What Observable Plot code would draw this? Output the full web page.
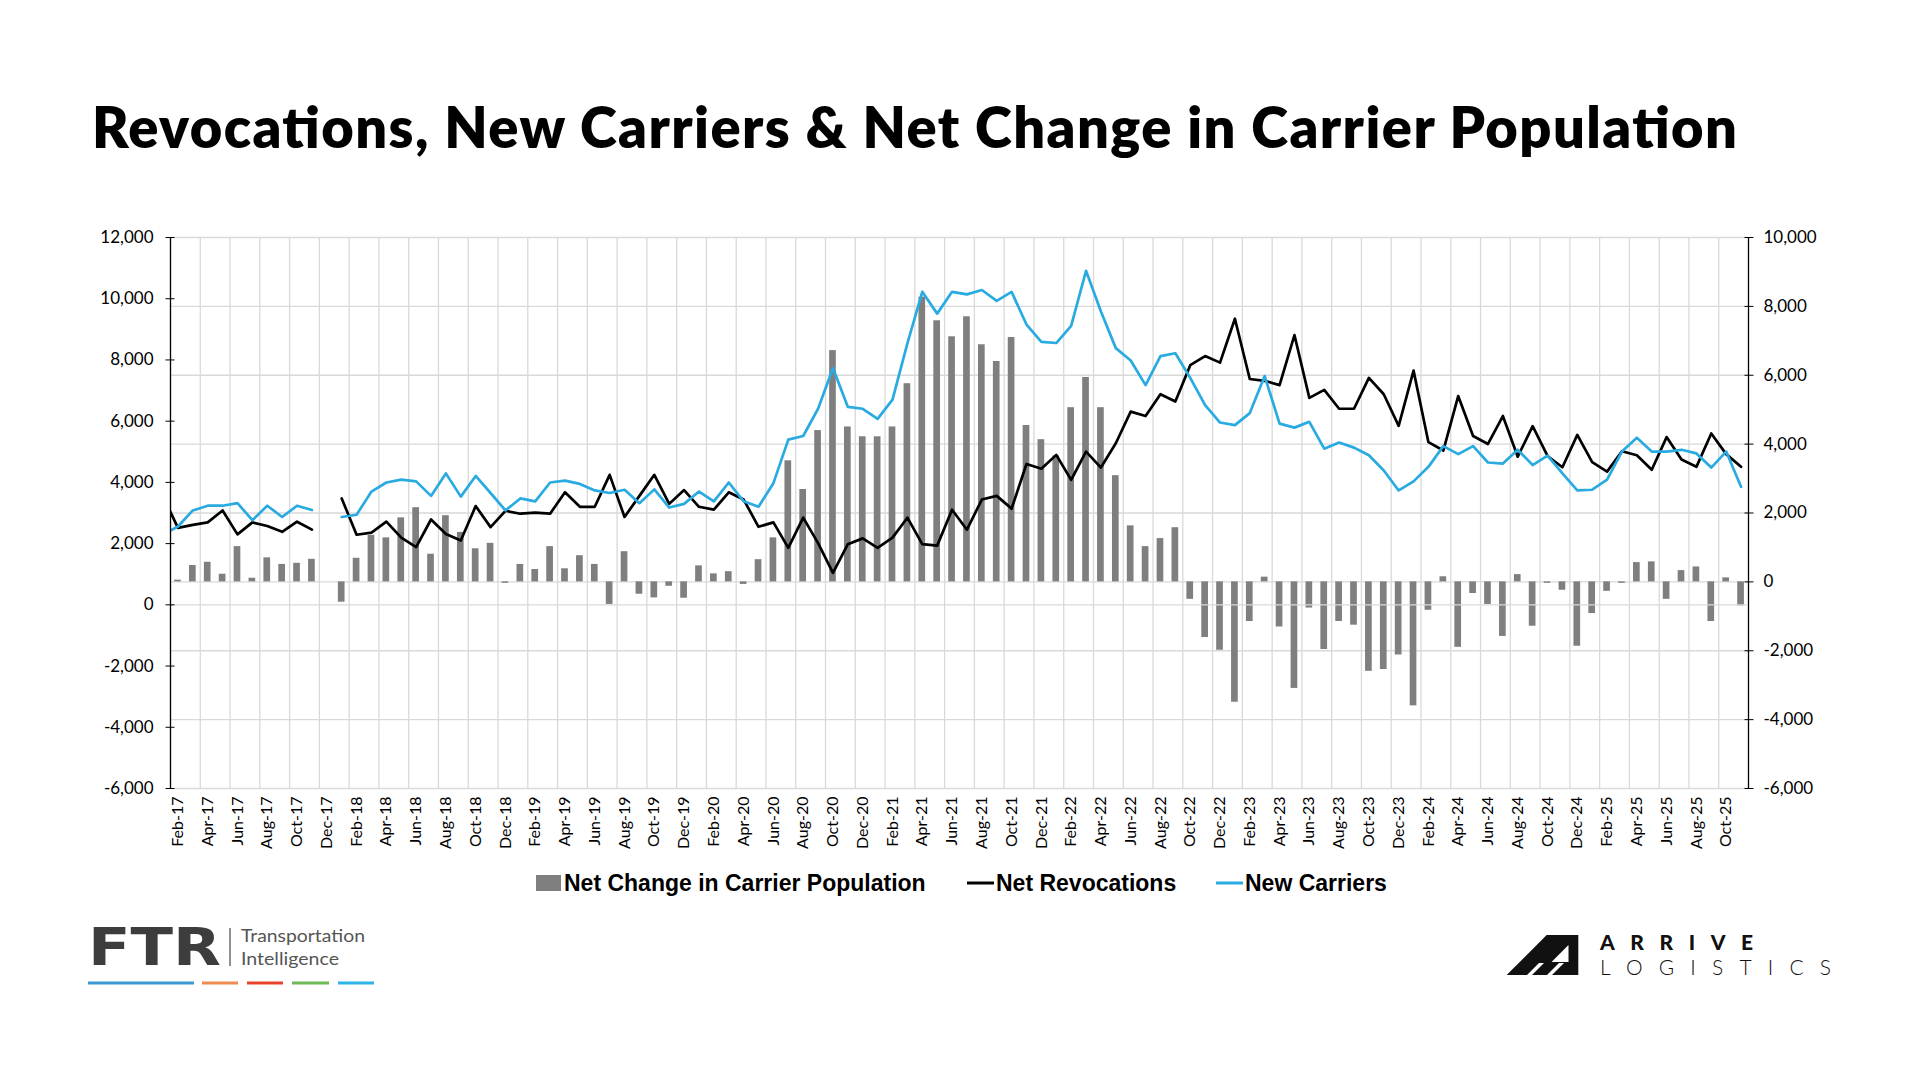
<!DOCTYPE html>
<html>
<head>
<meta charset="utf-8">
<script src="https://cdn.jsdelivr.net/npm/d3@7"></script>
<script src="https://cdn.jsdelivr.net/npm/@observablehq/plot@0.6"></script>
<style>
  html, body { margin: 0; padding: 0; background: #fff; }
  body { width: 1920px; height: 1080px; position: relative; overflow: hidden; font-family: Lato, sans-serif; }
  #chart { position: absolute; left: 0; top: 200px; width: 1920px; height: 700px; }
  #chart svg { position: absolute; left: 0; top: 0; }
  #overlay { position: absolute; left: 0; top: 0; pointer-events: none; }
</style>
</head>
<body>
<div id="chart"></div>
<svg id="overlay" width="1920" height="1080" xmlns="http://www.w3.org/2000/svg">
  <text x="92" y="148" font-family="Lato" font-weight="800" font-size="56" fill="#000" textLength="1645" lengthAdjust="spacing">Revocations, New Carriers &amp; Net Change in Carrier Population</text>

  <g font-family="'Liberation Sans Narrow', 'Arial Narrow', sans-serif" font-weight="700" font-size="23" fill="#000">
    <rect x="536" y="875" width="25" height="16" fill="#7f7f7f"/>
    <text x="564" y="891">Net Change in Carrier Population</text>
    <line x1="967" x2="994" y1="883" y2="883" stroke="#000" stroke-width="3"/>
    <text x="996" y="891">Net Revocations</text>
    <line x1="1216" x2="1243" y1="883" y2="883" stroke="#29abe2" stroke-width="3"/>
    <text x="1245" y="891">New Carriers</text>
  </g>

  <g>
    <text x="88" y="965" font-family="'DejaVu Sans'" font-weight="700" font-size="51" fill="#3d3d3d" textLength="133" lengthAdjust="spacingAndGlyphs">FTR</text>
    <line x1="230" x2="230" y1="928" y2="966" stroke="#555" stroke-width="1.3"/>
    <text x="241" y="942" font-family="Lato" font-size="18" fill="#555" textLength="124" lengthAdjust="spacingAndGlyphs">Transportation</text>
    <text x="241" y="964.5" font-family="Lato" font-size="18" fill="#555" textLength="98" lengthAdjust="spacingAndGlyphs">Intelligence</text>
    <rect x="88" y="981.5" width="106" height="3" fill="#3b9ad6"/>
    <rect x="202" y="981.5" width="36" height="3" fill="#f08c50"/>
    <rect x="247" y="981.5" width="36" height="3" fill="#e8442d"/>
    <rect x="292" y="981.5" width="37" height="3" fill="#6cb956"/>
    <rect x="338" y="981.5" width="36" height="3" fill="#2eb4e9"/>
  </g>

  <g>
    <path d="M1506.7,975 L1546.7,935 L1578.3,935 L1578.3,975 Z" fill="#111"/>
    <path d="M1568.5,945 L1568.5,962 L1551.5,962 Z" fill="#fff"/>
    <path d="M1527,975 L1539,963 L1544,963 L1532,975 Z" fill="#fff"/>
    <path d="M1547,975 L1559,963 L1564,963 L1552,975 Z" fill="#fff"/>
    <text x="1600" y="950" font-family="Lato" font-weight="900" font-size="21" fill="#111" textLength="153" lengthAdjust="spacing">ARRIVE</text>
    <text x="1600" y="975" font-family="Lato" font-weight="300" font-size="21" fill="#111" textLength="231" lengthAdjust="spacing">LOGISTICS</text>
  </g>
</svg>
<script>
// Categories: Jan-17 ... Nov-25 (Jan-17 only feeds the clipped line start at the left edge)
const months = d3.utcMonths(new Date(Date.UTC(2017, 0, 1)), new Date(Date.UTC(2025, 11, 1))).map(d3.utcFormat("%b-%y"));

// Net Change in Carrier Population (right axis)
const netChange = [
  null, 50, 475, 570, 222, 1024, 106, 697, 507, 539, 655, null,          // 2017
  -591, 686, 1352, 1278, 1859, 2154, 803, 1922, 1436, 961, 1119, -42,     // 2018
  507, 359, 1024, 380, 760, 507, -655, 876, -359, -465, -127, -475,       // 2019
  465, 232, 296, -74, 644, 1278, 3516, 2682, 4393, 6716, 4499, 4213,      // 2020
  4213, 4499, 5755, 8268, 7582, 7117, 7698, 6885, 6399, 7096, 4541, 4129, // 2021
  3654, 5058, 5935, 5058, 3084, 1626, 1024, 1257, 1573, -507, -1616, -1985, // 2022
  -3495, -1151, 137, -1309, -3094, -760, -1964, -1151, -1257, -2598, -2545, -2123, // 2023
  -3601, -824, 148, -1901, -338, -655, -1584, 211, -1288, -42, -243, -1869, // 2024
  -919, -275, -42, 560, 581, -507, 327, 433, -1151, 116, -697             // 2025
];

// Net Revocations (left axis)
const netRevocations = [
  3545, 2515, 2610, 2693, 3084, 2301, 2693, 2574, 2384, 2716, 2455, null,
  3476, 2289, 2361, 2716, 2194, 1886, 2788, 2313, 2100, 3226, 2538, 3072,
  2977, 3013, 2977, 3677, 3203, 3203, 4247, 2871, 3559, 4247, 3298, 3748,
  3203, 3108, 3677, 3440, 2550, 2693, 1862, 2847, 2017, 1044, 1981, 2171,
  1862, 2194, 2847, 1981, 1934, 3108, 2455, 3440, 3559, 3143, 4602, 4448,
  4899, 4081, 5006, 4484, 5279, 6311, 6168, 6880, 6643, 7829, 8126, 7912,
  9347, 7378, 7319, 7177, 8813, 6761, 7022, 6405, 6405, 7414, 6880, 5848,
  7651, 5314, 5041, 6821, 5516, 5255, 6168, 4840, 5836, 4863, 4496, 5552,
  4662, 4353, 5018, 4887, 4413, 5480, 4745, 4508, 5599, 4923, 4508
];

// New Carriers (left axis)
const newCarriers = [
  2300, 2560, 3084, 3238, 3238, 3321, 2764, 3238, 2870, 3238, 3096, null,
  2870, 2942, 3701, 3997, 4092, 4033, 3559, 4294, 3535, 4211, 3653, 3084,
  3476, 3381, 3997, 4057, 3950, 3737, 3653, 3760, 3321, 3772, 3179, 3298,
  3701, 3381, 3997, 3381, 3203, 3974, 5397, 5516, 6405, 7734, 6465, 6405,
  6073, 6702, 8541, 10225, 9513, 10225, 10142, 10284, 9929, 10225, 9157, 8588,
  8553, 9110, 10913, 9584, 8386, 7983, 7177, 8126, 8220, 7414, 6524, 5955,
  5872, 6263, 7473, 5919, 5789, 5979, 5101, 5302, 5136, 4887, 4389, 3737,
  4033, 4508, 5184, 4923, 5184, 4650, 4614, 5065, 4567, 4875, 4294, 3737,
  3760, 4092, 5006, 5457, 5006, 5006, 5065, 4947, 4484, 5006, 3855
];

const leftTicks = [-6000, -4000, -2000, 0, 2000, 4000, 6000, 8000, 10000, 12000];
const rightTicks = [-6000, -4000, -2000, 0, 2000, 4000, 6000, 8000, 10000];

const rows = months.map((m, i) => ({ i, m, net: netChange[i], rev: netRevocations[i], newc: newCarriers[i] }));
const labelIdx = months.map((m, i) => i).filter(i => i % 2 === 1); // Feb-17, Apr-17, ...
const xDomain = [0.5, months.length - 0.5];

const fmt = d3.formatLocale({ decimal: ".", thousands: ",", grouping: [3], currency: ["$", ""], minus: "-" }).format(",");

const common = {
  width: 1920, height: 700,
  marginTop: 37, marginBottom: 112, marginLeft: 170, marginRight: 172,
  style: { fontFamily: "Lato, sans-serif", fontSize: "17px", color: "#000", background: "transparent", overflow: "visible" }
};

const back = Plot.plot({
  ...common,
  x: { domain: xDomain },
  y: { domain: [-6000, 10000] },
  marks: [
    Plot.gridY(rightTicks, { stroke: "#d9d9d9", strokeOpacity: 1, strokeWidth: 1.3 }),
    Plot.ruleX(labelIdx, { x: i => i - 0.5, stroke: "#d9d9d9", strokeWidth: 1.3 }),
    Plot.rectY(rows.filter(d => d.net != null), {
      x1: d => d.i - 0.5, x2: d => d.i + 0.5, y1: () => 0, y2: "net",
      insetLeft: 4.1, insetRight: 4.1, fill: "#7f7f7f"
    }),
    Plot.ruleX([xDomain[1]], { stroke: "#000", strokeWidth: 1.3 }),
    Plot.axisY(rightTicks, { anchor: "right", tickSize: 9, dx: -4.5, fill: "none", label: null, stroke: "#000" }),
    Plot.axisY(rightTicks, { anchor: "right", tickSize: 0, tickPadding: 15, tickFormat: fmt, label: null, fontSize: 17 }),
    Plot.axisX(labelIdx, { tickFormat: i => months[i], tickRotate: -90, tickSize: 0, tickPadding: 8, fontSize: 16, label: null })
  ]
});

const front = Plot.plot({
  ...common,
  x: { domain: xDomain, axis: null },
  y: { domain: [-6000, 12000] },
  marks: [
    Plot.ruleY([0], { stroke: "#d9d9d9", strokeWidth: 1.3 }),
    Plot.line(rows, { x: "i", y: "rev", stroke: "#000", strokeWidth: 2.7, clip: true }),
    Plot.line(rows, { x: "i", y: "newc", stroke: "#29abe2", strokeWidth: 2.7, clip: true }),
    Plot.ruleX([xDomain[0]], { stroke: "#000", strokeWidth: 1.3 }),
    Plot.axisY(leftTicks, { anchor: "left", tickSize: 9, dx: 4.5, fill: "none", label: null, stroke: "#000" }),
    Plot.axisY(leftTicks, { anchor: "left", tickSize: 0, tickPadding: 17, tickFormat: fmt, label: null, fontSize: 17 })
  ]
});

const chart = document.getElementById("chart");
chart.appendChild(back);
chart.appendChild(front);
</script>
</body>
</html>
